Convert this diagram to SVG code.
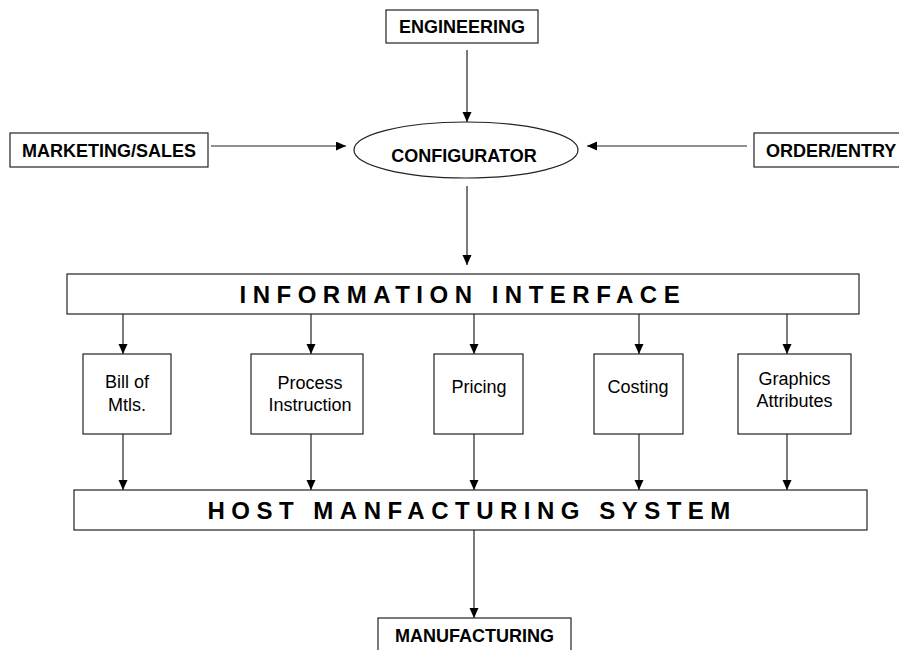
<svg xmlns="http://www.w3.org/2000/svg" width="899" height="650" viewBox="0 0 899 650">
  <style>
    .box { fill: #ffffff; stroke: #222222; stroke-width: 1.2; }
    .link { fill: none; stroke: #222222; stroke-width: 1.2; marker-end: url(#arrow); }
    .lbl { font-family: "Liberation Sans", Arial, sans-serif; font-weight: bold; font-size: 18px; fill: #000000; }
    .bar { font-family: "Liberation Sans", Arial, sans-serif; font-weight: bold; font-size: 24px; letter-spacing: 6.5px; fill: #000000; }
    .sub { font-family: "Liberation Sans", Arial, sans-serif; font-size: 18px; fill: #000000; text-anchor: middle; }
  </style>
  <defs>
    <marker id="arrow" markerUnits="userSpaceOnUse" markerWidth="10" markerHeight="10" refX="10" refY="4.5" orient="auto">
      <path d="M0,0 L10,4.5 L0,9 Z" fill="#000000"/>
    </marker>
  </defs>
  <rect width="899" height="650" fill="#ffffff"/>

  <!-- connectors -->
  <g id="connectors">
    <line class="link" x1="467" y1="50" x2="467" y2="122"/>
    <line class="link" x1="211" y1="146" x2="346" y2="146"/>
    <line class="link" x1="747" y1="146" x2="587" y2="146"/>
    <line class="link" x1="467" y1="186" x2="467" y2="265"/>
    <line class="link" x1="123" y1="314" x2="123" y2="354"/>
    <line class="link" x1="311" y1="314" x2="311" y2="354"/>
    <line class="link" x1="474" y1="314" x2="474" y2="354"/>
    <line class="link" x1="639" y1="314" x2="639" y2="354"/>
    <line class="link" x1="787" y1="314" x2="787" y2="354"/>
    <line class="link" x1="123" y1="434" x2="123" y2="490"/>
    <line class="link" x1="311" y1="434" x2="311" y2="490"/>
    <line class="link" x1="474" y1="434" x2="474" y2="490"/>
    <line class="link" x1="639" y1="434" x2="639" y2="490"/>
    <line class="link" x1="787" y1="434" x2="787" y2="490"/>
    <line class="link" x1="474" y1="530" x2="474" y2="618"/>
  </g>

  <g id="engineering">
    <rect class="box" x="386" y="10" width="152" height="33"/>
    <text class="lbl" x="462" y="33" text-anchor="middle">ENGINEERING</text>
  </g>

  <g id="marketing-sales">
    <rect class="box" x="10" y="133" width="198" height="34"/>
    <text class="lbl" x="109" y="157" text-anchor="middle">MARKETING/SALES</text>
  </g>

  <g id="configurator">
    <ellipse class="box" cx="466" cy="150" rx="112" ry="28"/>
    <text class="lbl" x="464" y="162" text-anchor="middle">CONFIGURATOR</text>
  </g>

  <g id="order-entry">
    <rect class="box" x="754" y="133" width="160" height="34"/>
    <text class="lbl" x="766" y="157">ORDER/ENTRY</text>
  </g>

  <g id="information-interface">
    <rect class="box" x="67" y="274" width="792" height="40"/>
    <text class="bar" x="239.5" y="303">INFORMATION INTERFACE</text>
  </g>

  <g id="bill-of-mtls">
    <rect class="box" x="83" y="354" width="88" height="80"/>
    <text class="sub" x="127" y="388">Bill of</text>
    <text class="sub" x="127" y="411">Mtls.</text>
  </g>

  <g id="process-instruction">
    <rect class="box" x="251" y="354" width="112" height="80"/>
    <text class="sub" x="310" y="389">Process</text>
    <text class="sub" x="310" y="411">Instruction</text>
  </g>

  <g id="pricing">
    <rect class="box" x="434" y="354" width="89" height="80"/>
    <text class="sub" x="479" y="393">Pricing</text>
  </g>

  <g id="costing">
    <rect class="box" x="594" y="354" width="89" height="80"/>
    <text class="sub" x="638" y="393">Costing</text>
  </g>

  <g id="graphics-attributes">
    <rect class="box" x="738" y="354" width="113" height="80"/>
    <text class="sub" x="794.5" y="385">Graphics</text>
    <text class="sub" x="794.5" y="407">Attributes</text>
  </g>

  <g id="host-manufacturing-system">
    <rect class="box" x="74" y="490" width="793" height="40"/>
    <text class="bar" x="207.5" y="519">HOST MANFACTURING SYSTEM</text>
  </g>

  <g id="manufacturing">
    <rect class="box" x="378" y="618" width="193" height="40"/>
    <text class="lbl" x="474.5" y="642" text-anchor="middle">MANUFACTURING</text>
  </g>
</svg>
